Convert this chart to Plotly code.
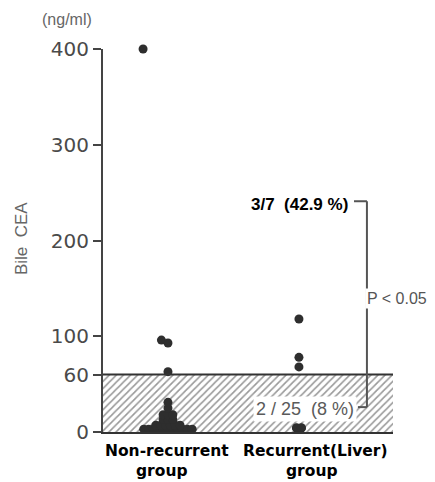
import plotly.graph_objects as go

# ---- data ----
groups = ["Non-recurrent", "Recurrent(Liver)"]
nonrec_low = [3] * 11 + [7] * 6 + [13] * 3 + [18] * 3 + [25, 31]
nonrec_high = [400, 96, 93, 63]
nonrec_high_jitter = [-0.19, -0.05, 0.0, 0.0]
rec_values = [118, 78, 68, 4, 4, 4.5, 4.5]
cutoff = 60
y_ticks = [0, 60, 100, 200, 300, 400]

# ---- layout helpers ----
SPACING = 0.037  # horizontal spacing for stacked dots (x units)


def swarm(values, center):
    xs, ys = [], []
    counts = {}
    for v in values:
        counts[v] = counts.get(v, 0) + 1
    seen = {}
    for v in values:
        n = counts[v]
        i = seen.get(v, 0)
        seen[v] = i + 1
        xs.append(center + (i - (n - 1) / 2) * SPACING)
        ys.append(v)
    return xs, ys


x0, y0 = swarm(nonrec_low, 0)
x0 += list(nonrec_high_jitter)
y0 += nonrec_high
x1, y1 = swarm(rec_values, 1)

XMIN, XMAX = -0.496, 1.718
dot = dict(color="#2e2e2e", size=9)

fig = go.Figure()
# hatched normal range
fig.add_trace(go.Scatter(
    x=[XMIN, XMAX, XMAX, XMIN, XMIN], y=[0, 0, cutoff, cutoff, 0],
    fill="toself", mode="lines", line=dict(width=0),
    fillcolor="white",
    fillpattern=dict(shape="/", fgcolor="#333333", bgcolor="white", size=5, solidity=0.32),
    hoverinfo="skip", showlegend=False))
fig.add_trace(go.Scatter(x=x0, y=y0, mode="markers", marker=dot, cliponaxis=False, showlegend=False))
fig.add_trace(go.Scatter(x=x1, y=y1, mode="markers", marker=dot, cliponaxis=False, showlegend=False))

# cutoff line
fig.add_shape(type="line", x0=XMIN, x1=XMAX, y0=cutoff, y1=cutoff,
              line=dict(color="#333333", width=2))
# bracket
bx = 1.519
bl = dict(color="#555", width=2)
fig.add_shape(type="line", x0=1.42, x1=bx, y0=241, y1=241, line=bl)
fig.add_shape(type="line", x0=bx, x1=bx, y0=241, y1=26, line=bl)
fig.add_shape(type="line", x0=1.45, x1=bx, y0=26, y1=26, line=bl)

fig.add_annotation(x=1.39, y=238, text="<b>3/7  (42.9 %)</b>", showarrow=False,
                   xanchor="right", font=dict(size=17, color="black"))
fig.add_annotation(x=1.508, y=139, text="P < 0.05", showarrow=False, xanchor="left",
                   bgcolor="white", borderpad=1, font=dict(size=16, color="#555"))
fig.add_annotation(x=1.045, y=24, text="2 / 25  (8 %)", showarrow=False,
                   bgcolor="white", borderpad=2, font=dict(size=18, color="#5a5a5a"))

lab = dict(size=15.5, color="black", family="DejaVu Sans, sans-serif")
fig.add_annotation(x=-0.004, y=0, yref="paper", yanchor="middle", yshift=-19,
                   text="<b>Non-recurrent</b>", showarrow=False, font=lab)
fig.add_annotation(x=-0.046, y=0, yref="paper", yanchor="middle", yshift=-39,
                   text="<b>group</b>", showarrow=False, font=lab)
fig.add_annotation(x=1.13, y=0, yref="paper", yanchor="middle", yshift=-19,
                   text="<b>Recurrent(Liver)</b>", showarrow=False, font=lab)
fig.add_annotation(x=1.10, y=0, yref="paper", yanchor="middle", yshift=-39,
                   text="<b>group</b>", showarrow=False, font=lab)
fig.add_annotation(xref="paper", yref="paper", x=-0.124, y=1.076, xanchor="center",
                   yanchor="middle", text="(ng/ml)", showarrow=False,
                   font=dict(size=16, color="#666"))
fig.add_annotation(xref="paper", yref="paper", x=-0.279, y=0.504, xanchor="center",
                   yanchor="middle", text="Bile  CEA", textangle=-90, showarrow=False,
                   font=dict(size=17, color="#666"))

fig.update_layout(
    width=435, height=482,
    margin=dict(l=95, r=50, t=41, b=58),
    plot_bgcolor="white", paper_bgcolor="white",
    font=dict(family="Liberation Sans, Arial, sans-serif"),
    xaxis=dict(range=[XMIN, XMAX], showticklabels=False, ticks="", showgrid=False,
               zeroline=False, showline=True, linecolor="#333", linewidth=2),
    yaxis=dict(range=[0, 400], tickvals=y_ticks, ticktext=[str(t) for t in y_ticks],
               ticks="outside", ticklen=8, tickwidth=1.5, tickcolor="#444",
               showgrid=False, zeroline=False, showline=True, linecolor="#444", linewidth=2,
               tickfont=dict(size=20, color="#4a4a4a", family="DejaVu Sans, sans-serif")),
)

fig.write_html("out.html")
